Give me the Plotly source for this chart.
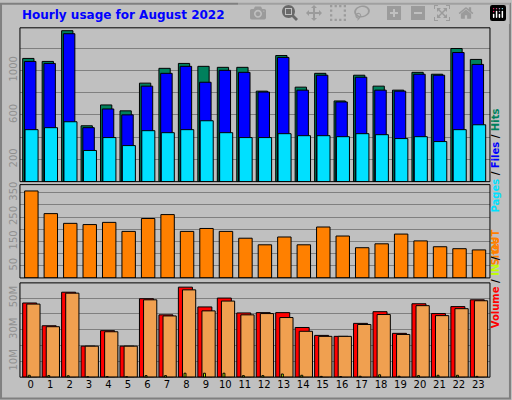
import plotly.graph_objects as go

hours = list(range(24))
hit_y = [56,59,28,124,103,109,81,66,61,64,65,65,89,53,85,71,99,73,84,88,70,72,46,57]
file_y = [59,61,31,126,107,113,84,71,64,80,68,70,90,55,88,73,100,75,88,89,72,73,50,62]
page_y = [128,126,120,149,136,144,129,131,128,119,131,136,136,132,134,134,135,132,133,137,135,140,128,123]
hits = [round((180.5-v)*8.89) for v in hit_y]
files = [round((180.5-v)*8.89) for v in file_y]
pages = [round((180.5-v)*8.89) for v in page_y]
sites = [357,264,224,219,228,191,244,260,191,203,191,163,136,168,136,209,172,124,140,180,152,128,120,115]
vol = [46.9,32.5,53.7,19.6,29.4,19.6,49.6,39.4,56.9,44.4,50.0,40.6,40.8,40.8,31.4,26.4,25.8,34.0,41.4,27.7,46.4,40.2,44.6,48.9]
vol_out = [46.2,31.9,53.1,19.6,28.7,19.6,48.9,38.7,55.2,41.9,48.1,39.4,40.2,37.7,29.0,25.8,25.8,33.3,39.6,27.0,45.2,38.9,43.3,48.3]
vol_in = [1.2,1.0,0.9,0.3,0.4,0.3,1.0,1.0,2.5,2.5,2.5,1.0,1.0,2.0,1.2,0.5,0.4,0.6,1.5,0.6,1.0,1.2,1.2,0.5]

fig = go.Figure()
ln = dict(color="black", width=1)
def bar(y, yaxis, color, off, w):
    fig.add_trace(go.Bar(x=hours, y=y, yaxis=yaxis, marker=dict(color=color, line=ln),
                         offset=off, width=w, showlegend=False))
bar(hits, "y", "#00805c", -0.41, 0.58)
bar(files, "y", "#0000ff", -0.32, 0.59)
bar(pages, "y", "#00e0ff", -0.29, 0.67)
bar(sites, "y2", "#ff8000", -0.31, 0.69)
bar(vol, "y3", "#ff0000", -0.41, 0.72)
bar(vol_out, "y3", "#f0a050", -0.2, 0.68)
bar(vol_in, "y3", "#c0ff00", -0.12, 0.1)

gfont = dict(family="DejaVu Sans", size=10, color="#909090")
common = dict(showline=False, zeroline=False, gridcolor="#808080", gridwidth=1,
              tickangle=-90, tickfont=gfont, fixedrange=True, ticks="")
xd = [0.039, 0.957]
fig.update_layout(
    width=512, height=400, margin=dict(l=0, r=0, t=0, b=0),
    paper_bgcolor="#c0c0c0", plot_bgcolor="#c0c0c0", barmode="overlay",
    xaxis=dict(domain=xd, range=[-0.55, 23.6], tickvals=hours, showgrid=False,
               tickfont=dict(family="DejaVu Sans", size=10, color="black"),
               anchor="y3", zeroline=False, ticks=""),
    yaxis=dict(domain=[0.55, 0.9375], range=[0, 1382], tickvals=list(range(200, 1400, 200)),
               ticktext=["200", "", "600", "", "1000", ""], anchor="x", **common),
    yaxis2=dict(domain=[0.3075, 0.5425], range=[0, 383], tickvals=list(range(50, 400, 50)),
                ticktext=["50", "", "150", "", "250", "", "350"], anchor="x", **common),
    yaxis3=dict(domain=[0.0575, 0.295], range=[0, 59.6], tickvals=[10, 20, 30, 40, 50],
                ticktext=["10M", "", "30M", "", "50M"], anchor="x", **common),
)
shapes = []
for y0, y1 in [(0.55, 0.9375), (0.3075, 0.5425), (0.0575, 0.295)]:
    shapes.append(dict(type="rect", xref="paper", yref="paper", x0=xd[0], x1=xd[1], y0=y0, y1=y1,
                       line=dict(color="black", width=1)))
shapes.append(dict(type="rect", xref="paper", yref="paper", x0=0.002, x1=0.996, y0=0.004, y1=0.998,
                   line=dict(color="#808080", width=2)))
fig.update_layout(shapes=shapes)
fig.add_annotation(x=20/512, y=1-12/400, xref="paper", yref="paper", xanchor="left", yanchor="middle",
                   text="<b>Hourly usage for August 2022</b>", showarrow=False,
                   font=dict(family="DejaVu Sans", size=12, color="#0000ff"))
bf = dict(family="DejaVu Sans", size=10)
fig.add_annotation(x=0.982, y=0.74, xref="paper", yref="paper", textangle=-90, showarrow=False,
                   text="<b><span style='color:#00e0ff'>Pages</span><span style='color:#000'> / </span>"
                        "<span style='color:#0000ff'>Files</span><span style='color:#000'> / </span>"
                        "<span style='color:#00805c'>Hits</span></b>", font=bf)
fig.add_annotation(x=0.982, y=0.375, xref="paper", yref="paper", textangle=-90, showarrow=False,
                   text="<b><span style='color:#ff8000'>Sites</span></b>", font=bf)
fig.add_annotation(x=0.982, y=0.175, xref="paper", yref="paper", textangle=-90, showarrow=False,
                   text="<b><span style='color:#ff0000'>Volume</span><span style='color:#000'> / </span>"
                        "<span style='color:#c0ff00'>IN</span><span style='color:#000'> / </span>"
                        "<span style='color:#ff8000'>OUT</span></b>", font=bf)
fig.write_html("out.html", post_script="document.body.style.margin='0';document.body.style.overflow='hidden';")
